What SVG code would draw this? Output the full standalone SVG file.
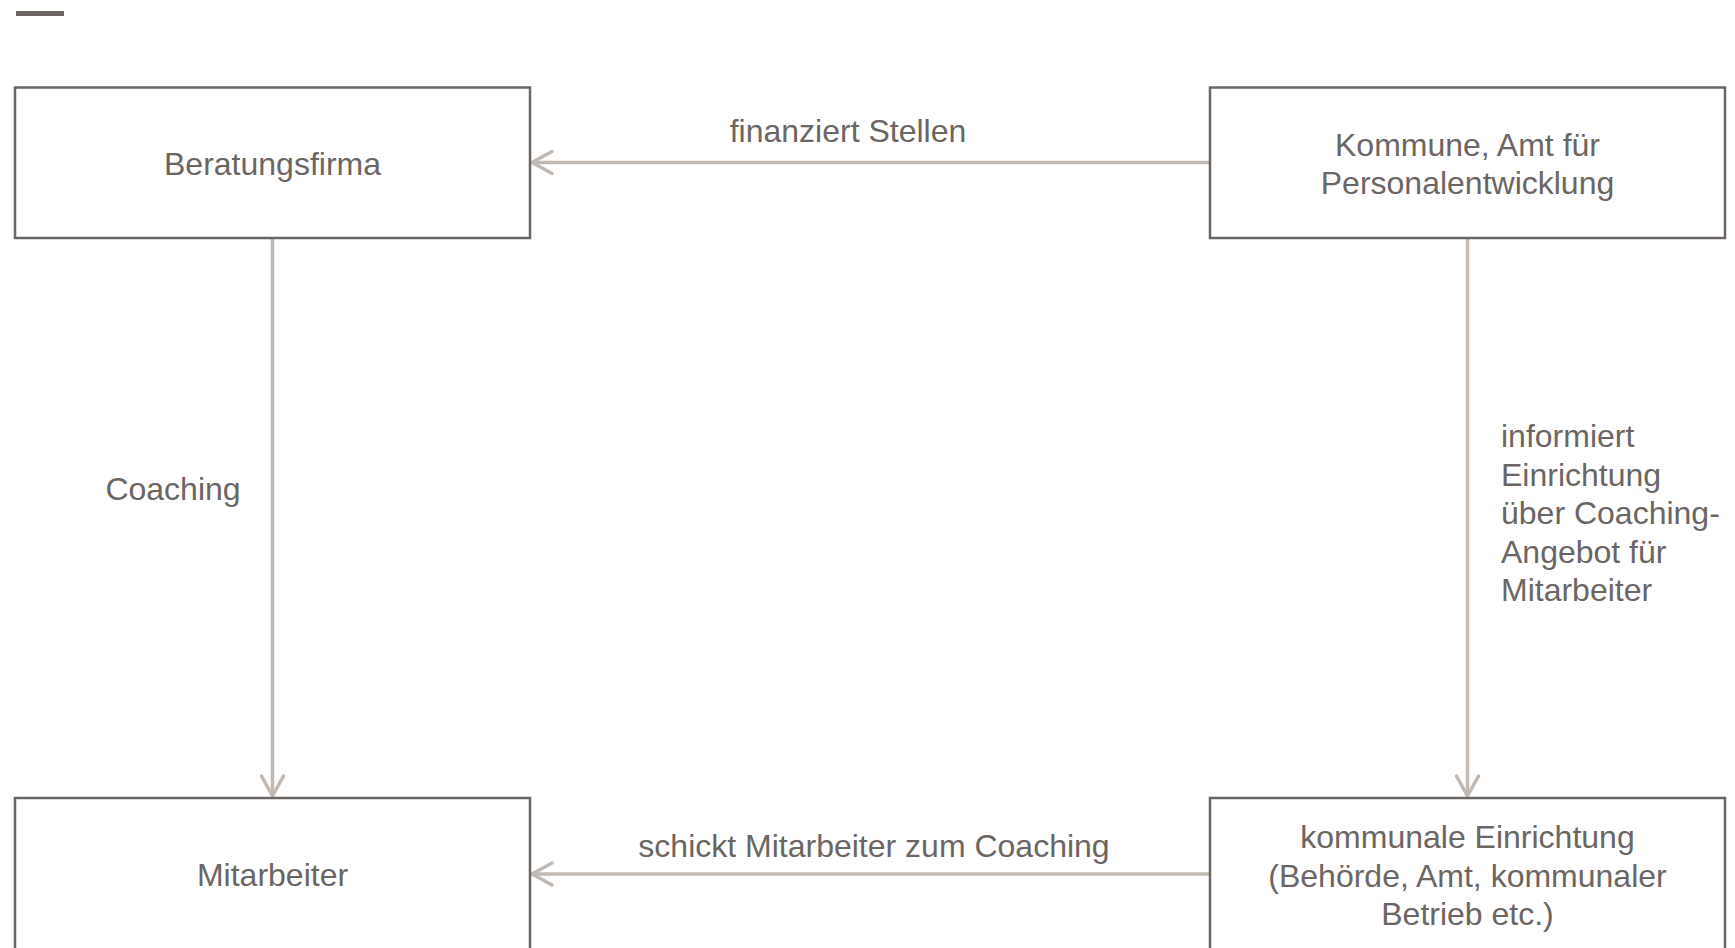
<svg xmlns="http://www.w3.org/2000/svg" width="1735" height="948" viewBox="0 0 1735 948">
<style>
.box{fill:#ffffff;stroke:#6b6663;stroke-width:2.5}
.t{font-family:"Liberation Sans",Arial,sans-serif;font-size:32px;fill:#6b6663}
.c{text-anchor:middle}
.conn{stroke:#c2bab2;stroke-width:3.5;fill:none}
</style>
<defs>
<marker id="arr" markerUnits="userSpaceOnUse" markerWidth="30" markerHeight="30" viewBox="-25 -15 30 30" refX="0" refY="0" orient="auto">
<path d="M -20 -11 L 0 0 L -20 11" fill="none" stroke="#c2bab2" stroke-width="3.5" stroke-linecap="round" stroke-linejoin="round"/>
</marker>
</defs>
<rect x="0" y="0" width="1735" height="948" fill="#ffffff"/>
<rect x="16" y="11" width="48" height="5" fill="#6b6663"/>
<g id="connectors">
<line class="conn" x1="1210" y1="162.5" x2="532" y2="162.5" marker-end="url(#arr)"/>
<line class="conn" x1="272.5" y1="238" x2="272.5" y2="796" marker-end="url(#arr)"/>
<line class="conn" x1="1467.5" y1="238" x2="1467.5" y2="796" marker-end="url(#arr)"/>
<line class="conn" x1="1210" y1="874" x2="532" y2="874" marker-end="url(#arr)"/>
<text class="t c" x="848" y="142">finanziert Stellen</text>
<text class="t c" x="173" y="500">Coaching</text>
<text class="t" x="1501" y="447">informiert</text>
<text class="t" x="1501" y="485.5">Einrichtung</text>
<text class="t" x="1501" y="524">über Coaching-</text>
<text class="t" x="1501" y="562.5">Angebot für</text>
<text class="t" x="1501" y="601">Mitarbeiter</text>
<text class="t c" x="874" y="857">schickt Mitarbeiter zum Coaching</text>
</g>
<g id="beratungsfirma">
<rect class="box" x="15" y="87.5" width="515" height="150.5"/>
<text class="t c" x="272.5" y="175">Beratungsfirma</text>
</g>
<g id="kommune">
<rect class="box" x="1210" y="87.5" width="515" height="150.5"/>
<text class="t c" x="1467.5" y="155.5">Kommune, Amt für</text>
<text class="t c" x="1467.5" y="193.5">Personalentwicklung</text>
</g>
<g id="mitarbeiter">
<rect class="box" x="15" y="798" width="515" height="160"/>
<text class="t c" x="272.5" y="886">Mitarbeiter</text>
</g>
<g id="einrichtung">
<rect class="box" x="1210" y="798" width="515" height="160"/>
<text class="t c" x="1467.5" y="848">kommunale Einrichtung</text>
<text class="t c" x="1467.5" y="886.5">(Behörde, Amt, kommunaler</text>
<text class="t c" x="1467.5" y="925">Betrieb etc.)</text>
</g>
</svg>
